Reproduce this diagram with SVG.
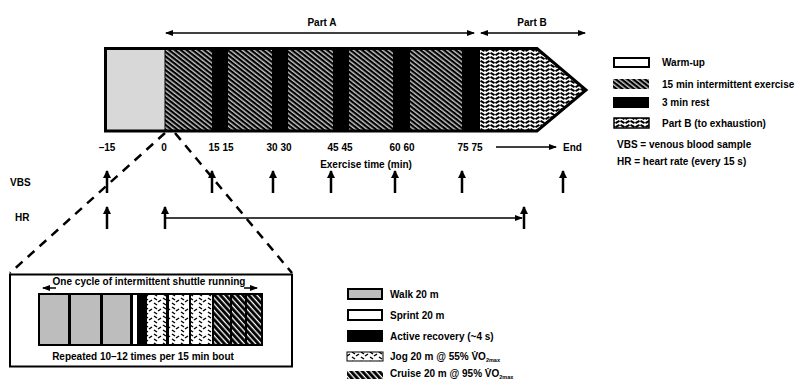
<svg xmlns="http://www.w3.org/2000/svg" width="810" height="381" viewBox="0 0 810 381">
<style>
text{font-family:"Liberation Sans",Arial,sans-serif;font-weight:bold;font-size:10px;fill:#000}
.c{text-anchor:middle}
.thin{stroke:#000;stroke-width:1.5;fill:none}
.up{stroke:#000;stroke-width:2.5;fill:none}
.dash{stroke:#000;stroke-width:2.5;fill:none;stroke-dasharray:9,7}
</style>
<defs>
<pattern id="hatch" width="3.6" height="3.6" patternUnits="userSpaceOnUse" patternTransform="rotate(38)">
<rect width="3.6" height="3.6" fill="#000"/>
<rect y="1.4" width="3.6" height="1.1" fill="#fff"/>
</pattern>
<pattern id="cruise" width="4.2" height="4.2" patternUnits="userSpaceOnUse" patternTransform="rotate(48)">
<rect width="4.2" height="4.2" fill="#000"/>
<rect y="1.6" width="4.2" height="1.3" fill="#fff"/>
</pattern>
<pattern id="partb" width="10" height="8" patternUnits="userSpaceOnUse">
<rect width="10" height="8" fill="#fff"/>
<path d="M0.5,0.8 l4,2.4 M5.5,3.2 l4,-2.4 M0.5,4.8 l4,2.4 M5.5,7.2 l4,-2.4" stroke="#000" stroke-width="2" fill="none"/>
</pattern>
<pattern id="jog" width="9" height="9" patternUnits="userSpaceOnUse">
<rect width="9" height="9" fill="#fff"/>
<path d="M1,1 l3,2 M5,5 l3,-2 M1,6 l3,2" stroke="#000" stroke-width="1.5" fill="none"/>
</pattern>
<marker id="ah" markerWidth="8" markerHeight="6" refX="7" refY="3" orient="auto-start-reverse" markerUnits="userSpaceOnUse">
<path d="M0,0 L8,3 L0,6 Z" fill="#000"/>
</marker>
<marker id="bh" markerWidth="8" markerHeight="8" refX="7" refY="4" orient="auto" markerUnits="userSpaceOnUse">
<path d="M0,0 L8,4 L0,8 Z" fill="#000"/>
</marker>
</defs>

<g id="bar">
<rect x="105" y="48" width="60" height="83" fill="#d8d8d8"/>
<rect x="165" y="48" width="47" height="83" fill="url(#hatch)"/>
<rect x="212" y="48" width="16" height="83" fill="#000"/>
<rect x="228" y="48" width="44" height="83" fill="url(#hatch)"/>
<rect x="272" y="48" width="16" height="83" fill="#000"/>
<rect x="288" y="48" width="45" height="83" fill="url(#hatch)"/>
<rect x="333" y="48" width="16" height="83" fill="#000"/>
<rect x="349" y="48" width="44" height="83" fill="url(#hatch)"/>
<rect x="393" y="48" width="17" height="83" fill="#000"/>
<rect x="410" y="48" width="52" height="83" fill="url(#hatch)"/>
<rect x="462" y="48" width="18" height="83" fill="#000"/>
<polygon points="480,48 537,48 586,90 537,131 480,131" fill="url(#partb)"/>
<line x1="165" y1="48" x2="165" y2="131" stroke="#000" stroke-width="1"/>
<polygon points="105.5,48.5 537,48.5 586,90 537,131 105.5,131" fill="none" stroke="#000" stroke-width="3" stroke-linejoin="miter"/>
</g>

<g id="connectors">
<line class="thin" x1="166" y1="33" x2="474" y2="33" marker-start="url(#ah)" marker-end="url(#ah)"/>
<line class="thin" x1="481" y1="33" x2="585" y2="33" marker-start="url(#ah)" marker-end="url(#ah)"/>
<line class="thin" x1="496" y1="147" x2="556" y2="147" marker-end="url(#ah)"/>
<line class="up" x1="107" y1="193" x2="107" y2="171" marker-end="url(#bh)"/>
<line class="up" x1="212" y1="193" x2="212" y2="171" marker-end="url(#bh)"/>
<line class="up" x1="273" y1="193" x2="273" y2="171" marker-end="url(#bh)"/>
<line class="up" x1="331" y1="193" x2="331" y2="171" marker-end="url(#bh)"/>
<line class="up" x1="395" y1="193" x2="395" y2="171" marker-end="url(#bh)"/>
<line class="up" x1="462" y1="193" x2="462" y2="171" marker-end="url(#bh)"/>
<line class="up" x1="563" y1="193" x2="563" y2="171" marker-end="url(#bh)"/>
<line class="up" x1="107" y1="229" x2="107" y2="207" marker-end="url(#bh)"/>
<line class="up" x1="165" y1="229" x2="165" y2="207" marker-end="url(#bh)"/>
<line class="up" x1="524" y1="229" x2="524" y2="207" marker-end="url(#bh)"/>
<line class="thin" x1="165" y1="218" x2="522" y2="218" marker-end="url(#ah)"/>
<line class="dash" x1="165" y1="133" x2="10" y2="273"/>
<line class="dash" x1="175" y1="133" x2="292" y2="273"/>
</g>

<g id="labels">
<text class="c" x="322" y="26">Part A</text>
<text class="c" x="532" y="26">Part B</text>
<text class="c" x="107" y="151">–15</text>
<text class="c" x="164" y="151">0</text>
<text class="c" x="221" y="151">15 15</text>
<text class="c" x="279" y="151">30 30</text>
<text class="c" x="340" y="151">45 45</text>
<text class="c" x="402" y="151">60 60</text>
<text class="c" x="470" y="151">75 75</text>
<text x="563" y="151">End</text>
<text class="c" x="366" y="168">Exercise time (min)</text>
<text x="10" y="186">VBS</text>
<text x="15" y="221">HR</text>
</g>

<g id="legend-top">
<rect x="614" y="58" width="35" height="9" fill="#fff" stroke="#000" stroke-width="2"/>
<text x="662" y="66">Warm-up</text>
<rect x="613" y="79" width="36" height="10" fill="url(#hatch)"/>
<text x="662" y="88">15 min intermittent exercise</text>
<rect x="613" y="97" width="36" height="11" fill="#000"/>
<text x="662" y="106">3 min rest</text>
<rect x="614" y="118" width="35" height="10" fill="url(#partb)" stroke="#000" stroke-width="1.5"/>
<text x="662" y="127">Part B (to exhaustion)</text>
<text x="617" y="148">VBS = venous blood sample</text>
<text x="617" y="165">HR = heart rate (every 15 s)</text>
</g>

<g id="cycle-box">
<rect x="10" y="274.5" width="282" height="92" fill="#fff" stroke="#000" stroke-width="2"/>
<rect x="38" y="293" width="225" height="53" fill="#000"/>
<rect x="40" y="295" width="28" height="49" fill="#bdbdbd"/>
<rect x="71" y="295" width="29" height="49" fill="#bdbdbd"/>
<rect x="103" y="295" width="27" height="49" fill="#bdbdbd"/>
<rect x="133" y="295" width="4" height="49" fill="#fff"/>
<rect x="147" y="295" width="19" height="49" fill="url(#jog)"/>
<rect x="169" y="295" width="20" height="49" fill="url(#jog)"/>
<rect x="191" y="295" width="21" height="49" fill="url(#jog)"/>
<rect x="214" y="295" width="16" height="49" fill="url(#cruise)"/>
<rect x="232" y="295" width="13" height="49" fill="url(#cruise)"/>
<rect x="247" y="295" width="14" height="49" fill="url(#cruise)"/>
<line class="thin" x1="56" y1="288" x2="43" y2="288" marker-end="url(#ah)"/>
<line class="thin" x1="244" y1="288" x2="257" y2="288" marker-end="url(#ah)"/>
<text class="c" x="149" y="285">One cycle of intermittent shuttle running</text>
<text class="c" x="143" y="360">Repeated 10–12 times per 15 min bout</text>
</g>

<g id="legend-bottom">
<rect x="348" y="289" width="34" height="10" fill="#bdbdbd" stroke="#000" stroke-width="2"/>
<text x="390" y="298">Walk 20 m</text>
<rect x="348" y="310" width="34" height="10" fill="#fff" stroke="#000" stroke-width="2"/>
<text x="390" y="319">Sprint 20 m</text>
<rect x="347" y="330" width="36" height="12" fill="#000"/>
<text x="390" y="340">Active recovery (~4 s)</text>
<rect x="347" y="352" width="36" height="9" fill="url(#jog)" stroke="#000" stroke-width="1"/>
<text x="390" y="360">Jog 20 m @ 55% V̇O<tspan font-size="5.5" dy="1.5">2max</tspan></text>
<rect x="347" y="371" width="36" height="8" fill="url(#cruise)"/>
<text x="390" y="377">Cruise 20 m @ 95% V̇O<tspan font-size="5.5" dy="1.5">2max</tspan></text>
</g>
</svg>
